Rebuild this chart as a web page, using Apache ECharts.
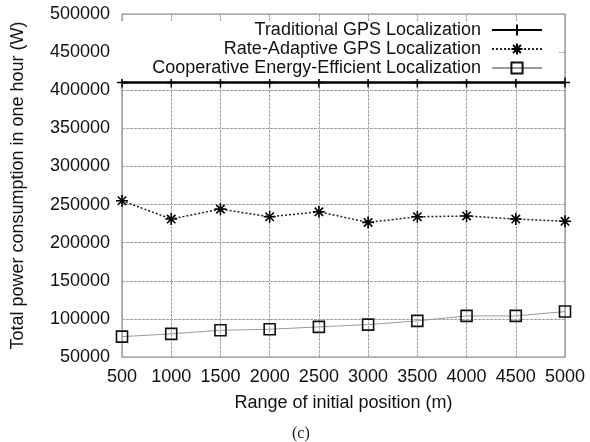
<!DOCTYPE html>
<html>
<head>
<meta charset="utf-8">
<script src="https://cdn.jsdelivr.net/npm/echarts@6/dist/echarts.min.js"></script>
<style>
  html, body { margin: 0; padding: 0; background: #fff; }
  #chart { width: 590px; height: 442px; }
</style>
</head>
<body>
<div id="chart"></div>
<script>
// Range of initial position (m)
const ranges = [500, 1000, 1500, 2000, 2500, 3000, 3500, 4000, 4500, 5000];
// Total power consumption in one hour (W)
const traditionalGps = [410000, 410000, 410000, 410000, 410000, 410000, 410000, 410000, 410000, 410000];
const rateAdaptiveGps = [255000, 231000, 244000, 234000, 240500, 226600, 234000, 235000, 231000, 228000];
const cooperativeEnergy = [76700, 80300, 85100, 86400, 89500, 92500, 97400, 103900, 103900, 109600];

const seriesNames = [
  'Traditional GPS Localization',
  'Rate-Adaptive GPS Localization',
  'Cooperative Energy-Efficient Localization'
];

const FONT = 'Liberation Sans, Arial, sans-serif';
const plusPath = 'path://M0,5L10,5M5,0L5,10';
const starPath = 'path://M0,5L10,5M5,0L5,10M1.5,1.5L8.5,8.5M1.5,8.5L8.5,1.5';

const pairs = (ys) => ranges.map((x, i) => [x, ys[i]]);
const plain = (v) => String(v);

const gridLine = { show: true, lineStyle: { color: '#a0a0a0', width: 1, type: [3, 1] } };

const chart = echarts.init(document.getElementById('chart'), null, { renderer: 'canvas' });
chart.setOption({
  animation: false,
  backgroundColor: '#fff',
  grid: {
    left: 122, right: 25, top: 14, bottom: 85,
    show: true, borderColor: '#8a8a8a', borderWidth: 1.2, backgroundColor: 'transparent'
  },
  title: {
    text: '(c)', left: 287, top: 421,
    textStyle: { fontFamily: 'Liberation Serif, serif', fontSize: 16, fontWeight: 'normal', color: '#222' }
  },
  legend: {
    orient: 'vertical',
    align: 'right',
    right: 31, top: 21,
    padding: [0, 16, 2, 34],
    itemGap: 1,
    itemWidth: 50,
    itemHeight: 14,
    backgroundColor: '#fff',
    data: seriesNames,
    textStyle: { fontFamily: FONT, fontSize: 18, color: '#111', padding: [0, 6, 0, 0] }
  },
  xAxis: {
    type: 'value',
    min: 500, max: 5000, interval: 500,
    name: 'Range of initial position (m)',
    nameLocation: 'middle', nameGap: 37,
    nameTextStyle: { fontFamily: FONT, fontSize: 18, color: '#111' },
    axisLine: { show: false },
    axisTick: { show: false },
    axisLabel: { margin: 11, fontFamily: FONT, fontSize: 18, color: '#111', formatter: plain },
    splitLine: gridLine
  },
  yAxis: {
    type: 'value',
    min: 50000, max: 500000, interval: 50000,
    name: 'Total power consumption in one hour (W)',
    nameLocation: 'middle', nameGap: 95,
    nameTextStyle: { fontFamily: FONT, fontSize: 18, color: '#111' },
    axisLine: { show: false },
    axisTick: { show: false },
    axisLabel: { margin: 12, fontFamily: FONT, fontSize: 18, color: '#111', formatter: plain },
    splitLine: gridLine
  },
  series: [
    {
      name: seriesNames[0],
      type: 'line',
      data: pairs(traditionalGps),
      symbol: plusPath,
      symbolSize: 10,
      showAllSymbol: true,
      lineStyle: { color: '#000', width: 2.5, type: 'solid' },
      itemStyle: { color: 'rgba(0,0,0,0)', borderColor: '#000', borderWidth: 1.5 },
      z: 3
    },
    {
      name: seriesNames[1],
      type: 'line',
      data: pairs(rateAdaptiveGps),
      symbol: starPath,
      symbolSize: 12,
      showAllSymbol: true,
      lineStyle: { color: '#222', width: 1.5, type: [2, 2] },
      itemStyle: { color: 'rgba(0,0,0,0)', borderColor: '#000', borderWidth: 1.6 },
      z: 3
    },
    {
      name: seriesNames[2],
      type: 'line',
      data: pairs(cooperativeEnergy),
      symbol: 'rect',
      symbolSize: 11,
      showAllSymbol: true,
      lineStyle: { color: '#9a9a9a', width: 1, type: 'solid' },
      itemStyle: { color: 'rgba(0,0,0,0)', borderColor: '#111', borderWidth: 1.6 },
      z: 3
    }
  ]
});
</script>
</body>
</html>
